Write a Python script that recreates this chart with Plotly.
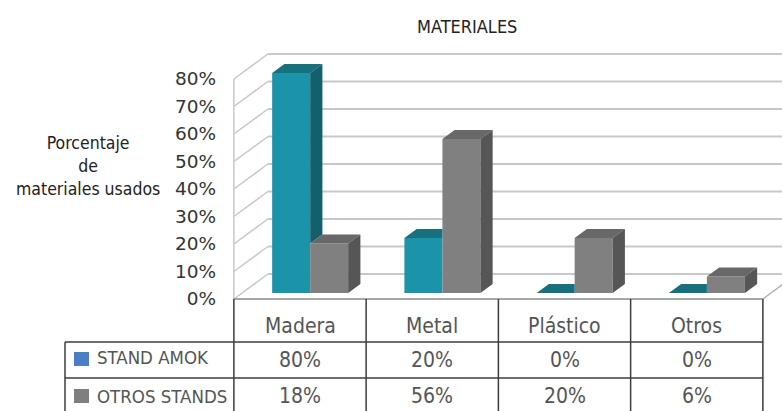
import plotly.graph_objects as go

# ---------------- data ----------------
categories = ["Madera", "Metal", "Plástico", "Otros"]
series_names = ["STAND AMOK", "OTROS STANDS"]
stand_amok = [80, 20, 0, 0]
otros_stands = [18, 56, 20, 6]
y_ticks = [0, 10, 20, 30, 40, 50, 60, 70, 80]
y_tick_labels = [f"{v}%" for v in y_ticks]
chart_title = "MATERIALES"
y_title = "Porcentaje<br>de<br>materiales usados"

# ---------------- geometry / style ----------------
W, H = 782, 411
COL_PX = 132.25      # px per category
X0_PX = 300.0        # px of first category centre (front plane)
Y0_PX = 299.0        # px of front 0 %
PCT_PX = 2.75        # px per 1 %


def xu(px):
    return (px - X0_PX) / COL_PX


def yu(py):
    return (Y0_PX - py) / PCT_PX


def pxp(px):
    return px / W


def pyp(py):
    return 1 - py / H


DXF = 34 / COL_PX    # full depth offset (x units)
DYF = 25 / PCT_PX    # full depth offset (% units)
D0 = 0.24            # bar front depth
DT = 0.36            # bar thickness (depth)
BAR_W = 38 / COL_PX
PAIR_OFF = 2 / COL_PX

TEAL = ["#1b93a8", "#17707e", "#135f6b"]   # front, top, side
GRAY = ["#808080", "#686868", "#565656"]
NARROW = "DejaVu Sans Condensed, Roboto, sans-serif"
GRID = "#c8c8c8"
TBL = "#3c3c3c"

tx, ty = DT * DXF, DT * DYF
base = D0 * DYF

fig = go.Figure()

# front faces (bars)
teal_x = [i + PAIR_OFF - BAR_W / 2 + D0 * DXF for i in range(len(categories))]
gray_x = [x + BAR_W for x in teal_x]
fig.add_trace(go.Bar(x=teal_x, y=stand_amok, base=base, width=BAR_W,
                     marker=dict(color=TEAL[0], line=dict(width=0)),
                     name=series_names[0], showlegend=False, hoverinfo="skip"))
fig.add_trace(go.Bar(x=gray_x, y=otros_stands, base=base, width=BAR_W,
                     marker=dict(color=GRAY[0], line=dict(width=0)),
                     name=series_names[1], showlegend=False, hoverinfo="skip"))

# top and side faces
def poly_trace(xs, ys, color):
    return go.Scatter(x=xs, y=ys, mode="lines", fill="toself", fillcolor=color,
                      line=dict(width=0, color=color), showlegend=False,
                      hoverinfo="skip", connectgaps=False)

tt_x, tt_y, ts_x, ts_y = [], [], [], []
gt_x, gt_y, gs_x, gs_y = [], [], [], []
for i in range(len(categories)):
    x0 = teal_x[i] - BAR_W / 2
    x1 = x0 + BAR_W
    T = stand_amok[i] + base
    G = otros_stands[i] + base
    if G >= T + ty:
        tt_x += [x0, x1, x1, x0 + tx, x0, None]
        tt_y += [T, T, T + ty, T + ty, T, None]
    else:
        tt_x += [x0, x1, x1 + tx, x0 + tx, x0, None]
        tt_y += [T, T, T + ty, T + ty, T, None]
    if T > G:
        lo = max(G, base)
        ts_x += [x1, x1, x1 + tx, x1 + tx, x1, None]
        ts_y += [lo, T, T + ty, lo + ty, lo, None]
    g0, g1 = x1, x1 + BAR_W
    gt_x += [g0, g1, g1 + tx, g0 + tx, g0, None]
    gt_y += [G, G, G + ty, G + ty, G, None]
    gs_x += [g1, g1, g1 + tx, g1 + tx, g1, None]
    gs_y += [base, G, G + ty, base + ty, base, None]

fig.add_trace(poly_trace(tt_x, tt_y, TEAL[1]))
fig.add_trace(poly_trace(ts_x, ts_y, TEAL[2]))
fig.add_trace(poly_trace(gt_x, gt_y, GRAY[1]))
fig.add_trace(poly_trace(gs_x, gs_y, GRAY[2]))

# ---------------- shapes: walls, floor, gridlines ----------------
shapes = []
xl = -0.5
xr = len(categories) - 0.5
x_right_edge = xu(W) + 0.2
for v in y_ticks:
    shapes.append(dict(type="line", xref="x", yref="y", x0=xl, y0=v,
                       x1=xl + DXF, y1=v + DYF, layer="below",
                       line=dict(color=GRID, width=1.5)))
    shapes.append(dict(type="line", xref="x", yref="y", x0=xl + DXF, y0=v + DYF,
                       x1=x_right_edge, y1=v + DYF, layer="below",
                       line=dict(color=GRID, width=1.8)))
shapes.append(dict(type="line", xref="x", yref="y", x0=xl, y0=0, x1=xl,
                   y1=y_ticks[-1], layer="below", line=dict(color=GRID, width=1.5)))
shapes.append(dict(type="line", xref="x", yref="y", x0=xr, y0=0, x1=xr + DXF,
                   y1=DYF, layer="below", line=dict(color="#b0b0b0", width=1.5)))
shapes.append(dict(type="line", xref="x", yref="y", x0=xl, y0=0, x1=xr, y1=0,
                   line=dict(color="#8a8a8a", width=1.5)))

# table lines
y_bot = yu(H + 5)
for k in range(len(categories) + 1):
    shapes.append(dict(type="line", xref="x", yref="y", x0=xl + k, y0=0,
                       x1=xl + k, y1=y_bot, line=dict(color=TBL, width=1.5)))
shapes.append(dict(type="line", xref="paper", yref="paper", x0=pxp(65), y0=pyp(342),
                   x1=pxp(65), y1=pyp(H + 5), line=dict(color=TBL, width=1.5)))
for r in (342, 378):
    shapes.append(dict(type="line", xref="paper", yref="y", x0=pxp(65), y0=yu(r),
                       x1=pxp(X0_PX + COL_PX * xr), y1=yu(r),
                       line=dict(color=TBL, width=1.5)))
shapes.append(dict(type="rect", xref="paper", yref="paper", x0=pxp(74), x1=pxp(89),
                   y0=pyp(366), y1=pyp(352), line=dict(width=0), fillcolor="#4a7ec6"))
shapes.append(dict(type="rect", xref="paper", yref="paper", x0=pxp(74), x1=pxp(89),
                   y0=pyp(403), y1=pyp(389), line=dict(width=0), fillcolor="#7f7f7f"))

# ---------------- annotations ----------------
TXT = "#555555"
ann = []
ann.append(dict(text=chart_title, x=pxp(467), y=pyp(26), xref="paper", yref="paper",
                showarrow=False, xanchor="center", yanchor="middle",
                font=dict(family=NARROW, size=18, color="#222222")))
ann.append(dict(text=y_title, x=pxp(88), y=pyp(166), xref="paper", yref="paper",
                showarrow=False, xanchor="center", yanchor="middle", align="center",
                font=dict(family=NARROW, size=17.5, color="#222222")))
for i, c in enumerate(categories):
    ann.append(dict(text=c, x=i, y=yu(326), xref="x", yref="y", showarrow=False,
                    xanchor="center", yanchor="middle",
                    font=dict(family=NARROW, size=21, color=TXT)))
    ann.append(dict(text=f"{stand_amok[i]}%", x=i, y=yu(360), xref="x", yref="y",
                    showarrow=False, xanchor="center", yanchor="middle",
                    font=dict(family=NARROW, size=21, color=TXT)))
    ann.append(dict(text=f"{otros_stands[i]}%", x=i, y=yu(396), xref="x", yref="y",
                    showarrow=False, xanchor="center", yanchor="middle",
                    font=dict(family=NARROW, size=21, color=TXT)))
for name, py in zip(series_names, (357, 396)):
    ann.append(dict(text=name, x=pxp(95), y=pyp(py), xref="paper", yref="paper",
                    showarrow=False, xanchor="left", yanchor="middle",
                    font=dict(family=NARROW, size=18.5, color=TXT)))

fig.update_layout(
    width=W, height=H,
    margin=dict(l=0, r=0, t=0, b=0),
    paper_bgcolor="white", plot_bgcolor="rgba(0,0,0,0)",
    barmode="overlay", showlegend=False,
    xaxis=dict(range=[xu(0), xu(W)], domain=[0, 1], visible=False, fixedrange=True),
    yaxis=dict(range=[yu(H), yu(0)], domain=[0, 1], anchor="free", position=pxp(234),
               tickvals=y_ticks, ticktext=y_tick_labels, showgrid=False,
               zeroline=False, showline=False, ticks="", ticklabelstandoff=18,
               tickfont=dict(family="DejaVu Sans", size=18.5, color="#333333"),
               fixedrange=True),
    shapes=shapes, annotations=ann,
)

fig.write_html("out.html")
